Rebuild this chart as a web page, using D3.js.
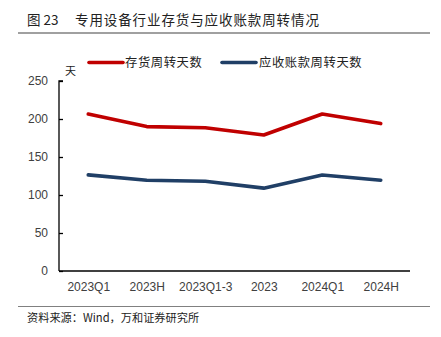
<!DOCTYPE html>
<html><head><meta charset="utf-8">
<script src="https://cdn.jsdelivr.net/npm/d3@7"></script>
<style>body{margin:0;background:#fff}svg{display:block}</style>
</head><body>
<script>
const categories = ["2023Q1","2023H","2023Q1-3","2023","2024Q1","2024H"];
const inventoryDays = [206.5, 190, 188.5, 179, 206.5, 194];
const receivableDays = [126.5, 119.5, 118, 109, 126.3, 119.5];
const seriesNames = ["存货周转天数","应收账款周转天数"];
const yTicks = [0,50,100,150,200,250];

const W=441,H=337;
const svg=d3.select("body").append("svg").attr("width",W).attr("height",H);
const cjk="'Noto Sans CJK SC','Noto Sans',sans-serif";
const num="'Liberation Sans',Arial,sans-serif";

// title
svg.append("text").attr("x",27).attr("y",25).attr("font-family",cjk).attr("font-size",13.5).attr("fill","#222")
  .attr("xml:space","preserve").text("图 23");
svg.append("text").attr("x",75).attr("y",25).attr("font-family",cjk).attr("font-size",13.5).attr("fill","#222")
  .attr("letter-spacing",0.9).text("专用设备行业存货与应收账款周转情况");
svg.append("line").attr("x1",18).attr("x2",430).attr("y1",33).attr("y2",33).attr("stroke","#808080").attr("stroke-width",1.5);

const m={l:59,r:410,t:81,b:271};
const x=d3.scalePoint().domain(categories).range([m.l,m.r]).padding(0.5);
const y=d3.scaleLinear().domain([0,250]).range([m.b,m.t]);

// y axis
const ya=svg.append("g").attr("transform",`translate(${m.l},0)`)
  .call(d3.axisRight(y).tickValues(yTicks).tickSize(4).tickFormat(d3.format("d")));
ya.select(".domain").attr("stroke","#000").attr("stroke-width",1.3).attr("d",`M4,${m.t}H0V${m.b}`);
ya.selectAll(".tick line").attr("stroke","#000").attr("stroke-width",1.3);
ya.selectAll(".tick text").attr("x",-11).attr("text-anchor","end").attr("font-family",num).attr("font-size",12).attr("fill","#404040");

// x axis
const xa=svg.append("g").attr("transform",`translate(0,${m.b})`)
  .call(d3.axisBottom(x).tickSize(0).tickPadding(11));
xa.select(".domain").attr("stroke","#000").attr("stroke-width",1.5).attr("d",`M${m.l},0H${m.r}`);
xa.selectAll(".tick text").attr("font-family",num).attr("font-size",12).attr("fill","#404040");

svg.append("text").attr("x",65).attr("y",75).attr("font-family",cjk).attr("font-size",11).attr("fill","#222").text("天");

const line=d3.line().x((d,i)=>x(categories[i])).y(d=>y(d));
const colors=["#C00000","#203F66"];
[inventoryDays,receivableDays].forEach((s,k)=>{
  svg.append("path").datum(s).attr("d",line).attr("fill","none").attr("stroke",colors[k])
    .attr("stroke-width",3.6).attr("stroke-linejoin","round").attr("stroke-linecap","round");
});

// legend
const lg=[{x:89,tx:125},{x:222,tx:259}];
seriesNames.forEach((n,k)=>{
  svg.append("line").attr("x1",lg[k].x).attr("x2",lg[k].x+34).attr("y1",62.5).attr("y2",62.5)
    .attr("stroke",colors[k]).attr("stroke-width",3.6).attr("stroke-linecap","round");
  svg.append("text").attr("x",lg[k].tx).attr("y",67).attr("font-family",cjk).attr("font-size",12.3)
    .attr("letter-spacing",0.6).attr("fill","#222").text(n);
});

// source
svg.append("line").attr("x1",18).attr("x2",430).attr("y1",306.5).attr("y2",306.5).attr("stroke","#808080").attr("stroke-width",1.2);
svg.append("text").attr("x",27).attr("y",322).attr("font-family",cjk).attr("font-size",11.2).attr("fill","#222").text("资料来源：Wind，万和证券研究所");
</script>
</body></html>
